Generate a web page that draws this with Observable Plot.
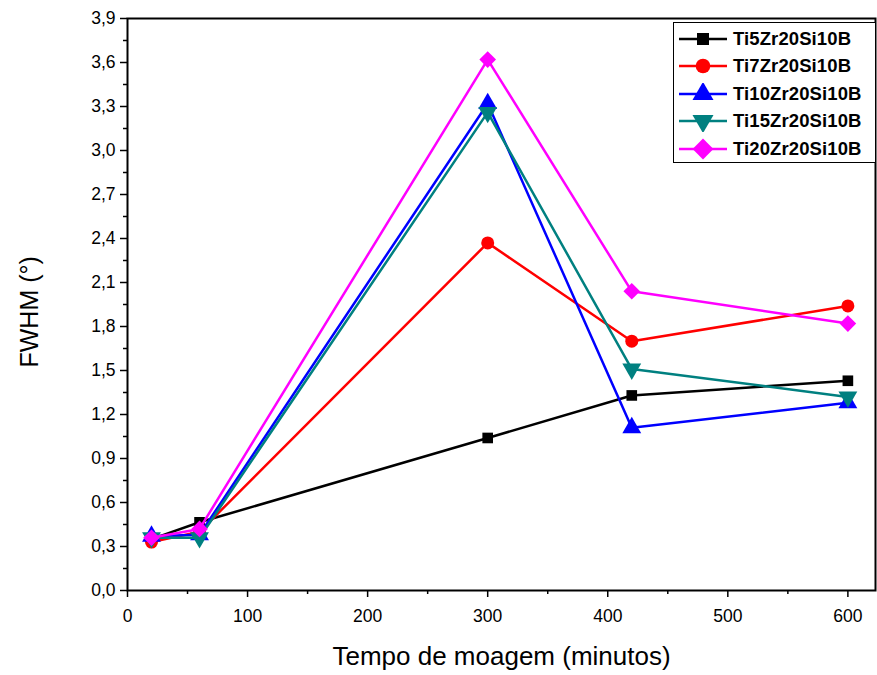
<!DOCTYPE html>
<html>
<head>
<meta charset="utf-8">
<script src="https://cdn.jsdelivr.net/npm/d3@7"></script>
<script src="https://cdn.jsdelivr.net/npm/@observablehq/plot@0.6"></script>
<style>
  html, body { margin: 0; padding: 0; background: #fff; }
  #wrap { position: relative; width: 877px; height: 675px; font-family: "Liberation Sans", Arial, sans-serif; }
  #legend { position: absolute; left: 673px; top: 22px; width: 203px; height: 141px; border: 1.5px solid #000; background: #fff; box-sizing: border-box; padding-top: 2px; }
  .row { display: flex; align-items: center; height: 27.5px; }
  .row span { font-weight: bold; font-size: 18.5px; margin-left: 5px; color: #000; letter-spacing: 0.1px; }
</style>
</head>
<body>
<div id="wrap"><div id="chart"></div><div id="legend"></div></div>
<script>
const times = [20, 60, 300, 420, 600];
const seriesNames = ["Ti5Zr20Si10B", "Ti7Zr20Si10B", "Ti10Zr20Si10B", "Ti15Zr20Si10B", "Ti20Zr20Si10B"];
const ti5 = [0.35, 0.465, 1.04, 1.33, 1.43];
const ti7 = [0.33, 0.40, 2.37, 1.70, 1.94];
const ti10 = [0.37, 0.38, 3.32, 1.11, 1.28];
const ti15 = [0.36, 0.36, 3.26, 1.51, 1.32];
const ti20 = [0.36, 0.42, 3.62, 2.04, 1.82];
const yTicks = [0, 0.3, 0.6, 0.9, 1.2, 1.5, 1.8, 2.1, 2.4, 2.7, 3.0, 3.3, 3.6, 3.9];
const xTicks = [0, 100, 200, 300, 400, 500, 600];

const colors = ["#000000", "#ff0000", "#0000ff", "#008080", "#ff00ff"];
const triDown = {
  draw(ctx, size) {
    const s = Math.sqrt(size / 0.433);
    const h = s * Math.sqrt(3) / 2;
    ctx.moveTo(-s / 2, -h / 3);
    ctx.lineTo(s / 2, -h / 3);
    ctx.lineTo(0, 2 * h / 3);
    ctx.closePath();
  }
};
const symbols = ["square", "circle", "triangle", triDown, "diamond2"];
const rs = [6, 6.5, 7, 7, 7.5];
const values = [ti5, ti7, ti10, ti15, ti20];

const data = [];
values.forEach((vals, i) => vals.forEach((v, j) => data.push({series: seriesNames[i], idx: i, t: times[j], v})));

const fmt = d => d3.format(".1f")(d).replace(".", ",");
const marks = [];
values.forEach((vals, i) => {
  const d = data.filter(p => p.idx === i);
  marks.push(Plot.line(d, {x: "t", y: "v", stroke: colors[i], strokeWidth: 2.5}));
  marks.push(Plot.dot(d, {x: "t", y: "v", fill: colors[i], stroke: "none", symbol: () => symbols[i], r: rs[i]}));
});

const chart = Plot.plot({
  width: 877,
  height: 675,
  marginLeft: 127,
  marginRight: 2,
  marginTop: 18,
  marginBottom: 85,
  style: {fontFamily: "'Liberation Sans', Arial, sans-serif", fontSize: "17.5px", color: "#000", background: "#fff"},
  x: {domain: [0, 623], label: null},
  y: {domain: [0, 3.9], label: null},
  marks: [
    Plot.axisX(d3.range(50, 601, 100), {tickSize: 4, tickFormat: () => "", strokeWidth: 1.5}),
    Plot.axisX(xTicks, {tickSize: 7, tickPadding: 12, tickFormat: d => String(d), strokeWidth: 1.5, fontSize: 17.5}),
    Plot.axisY(d3.range(0.15, 3.9, 0.3), {tickSize: 4, tickFormat: () => "", strokeWidth: 1.5}),
    Plot.axisY(yTicks, {tickSize: 7, tickPadding: 5, tickFormat: fmt, strokeWidth: 1.5, fontSize: 17.5}),
    Plot.frame({stroke: "#000", strokeWidth: 2}),
    ...marks,
    Plot.text(["Tempo de moagem (minutos)"], {frameAnchor: "bottom", dy: 74, fontSize: 26, fill: "#000"}),
    Plot.text(["FWHM (°)"], {frameAnchor: "left", dx: -98, dy: 63, rotate: -90, fontSize: 25, fill: "#000"})
  ]
});
document.getElementById("chart").appendChild(chart);

// legend
const legend = document.getElementById("legend");
seriesNames.forEach((name, i) => {
  const row = document.createElement("div");
  row.className = "row";
  const sw = d3.create("svg").attr("width", 50).attr("height", 22).style("margin-left", "4px");
  sw.append("line").attr("x1", 1).attr("x2", 49).attr("y1", 11).attr("y2", 11).attr("stroke", colors[i]).attr("stroke-width", 2.5);
  const sym = typeof symbols[i] === "string" ? ({square: d3.symbolSquare, circle: d3.symbolCircle, triangle: d3.symbolTriangle, diamond2: d3.symbolSquare})[symbols[i]] : symbols[i];
  const size = Math.PI * (rs[i] + 0.8) * (rs[i] + 0.8);
  const p = sw.append("path").attr("d", d3.symbol(sym, size)()).attr("fill", colors[i]);
  p.attr("transform", symbols[i] === "diamond2" ? "translate(25,11) rotate(45)" : "translate(25,11)");
  row.appendChild(sw.node());
  const s = document.createElement("span");
  s.textContent = name;
  row.appendChild(s);
  legend.appendChild(row);
});
</script>
</body>
</html>
